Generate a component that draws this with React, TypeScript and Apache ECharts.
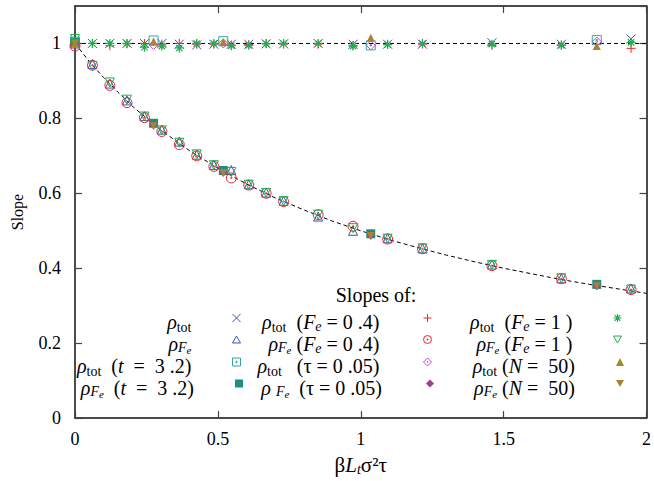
import React, { useEffect, useRef } from "react";
import * as echarts from "echarts";

const FONT = "'Liberation Serif', 'Times New Roman', Times, serif";
const S = "\u00a0";

// ---------- data ----------
const xDense = [0, 0.061, 0.122, 0.182, 0.243, 0.304, 0.365, 0.426, 0.486, 0.547, 0.608, 0.669, 0.73, 0.851, 0.973, 1.094, 1.216, 1.459, 1.702, 1.946];
const xSparse = [0, 0.275, 0.519, 1.035, 1.826];

const totBase = [1.0, 1.0, 1.0, 1.0, 1.0, 1.0, 0.998, 0.996, 0.998, 0.998, 0.998, 0.999, 0.999, 1.0, 0.998, 0.998, 0.998, 1.002, 0.998, 1.012];
const feBase = [1.0, 0.945, 0.893, 0.848, 0.806, 0.77, 0.738, 0.703, 0.676, 0.662, 0.624, 0.602, 0.58, 0.538, 0.5, 0.48, 0.453, 0.41, 0.373, 0.346];
const totT32 = [1.005, 1.008, 1.006, 0.995, 1.009];
const feT32 = [1.003, 0.787, 0.661, 0.492, 0.357];
const totFe04 = [0.998, 1.0, 0.994, 0.999, 1.0, 0.998, 1.0, 0.998, 0.998, 0.996, 0.997, 1.0, 0.998, 0.998, 0.995, 0.998, 0.998, 0.995, 0.996, 0.987];
const feFe04 = [0.993, 0.942, 0.888, 0.842, 0.802, 0.765, 0.73, 0.7, 0.672, 0.641, 0.622, 0.6, 0.578, 0.543, 0.512, 0.478, 0.452, 0.407, 0.372, 0.343];
const totTau = [1.0, 0.996, 1.0, 0.995, 1.005];
const feTau = [1.0, 0.782, 0.655, 0.487, 0.352];
const totFe1 = [1.003, 1.0, 1.0, 1.0, 0.99, 0.993, 0.988, 1.0, 1.0, 0.994, 0.995, 0.999, 1.0, 1.0, 0.993, 0.997, 1.0, 0.998, 0.995, 1.003];
const feFe1 = [1.012, 0.94, 0.896, 0.85, 0.805, 0.768, 0.735, 0.704, 0.675, 0.657, 0.623, 0.601, 0.579, 0.543, 0.507, 0.479, 0.453, 0.409, 0.373, 0.343];
const totN50 = [1.0, 1.005, 1.004, 1.015, 0.993];
const feN50 = [1.0, 0.779, 0.654, 0.486, 0.352];

// dashed guide curves
const guideX = [0, 0.05, 0.1, 0.15, 0.2, 0.3, 0.4, 0.5, 0.6, 0.7, 0.8, 0.9, 1.0, 1.1, 1.2, 1.3, 1.4, 1.5, 1.6, 1.7, 1.8, 1.9, 2.0];
const guideLower = [1.0, 0.952, 0.909, 0.87, 0.833, 0.769, 0.714, 0.667, 0.625, 0.588, 0.556, 0.526, 0.5, 0.476, 0.455, 0.435, 0.417, 0.4, 0.385, 0.37, 0.357, 0.345, 0.333];
const guideUpperX = [0, 2];
const guideUpper = [1, 1];

const seriesNames = [
  "ρtot", "ρFe", "ρtot (t = 3.2)", "ρFe (t = 3.2)",
  "ρtot (Fe = 0.4)", "ρFe (Fe = 0.4)", "ρtot (τ = 0.05)", "ρFe (τ = 0.05)",
  "ρtot (Fe = 1)", "ρFe (Fe = 1)", "ρtot (N = 50)", "ρFe (N = 50)",
];

const legendLabels = [
  `{r|ρ}{s|tot}`,
  `{r|ρ}{f|F}{ff|e}`,
  `{r|ρ}{s|tot}{n|${S}${S}(}{i|t}{n|${S}${S}=${S}${S}3${S}.2)}`,
  `{r|ρ}{f|F}{ff|e}{n|${S}${S}(}{i|t}{n|${S}${S}=${S}${S}3${S}.2)}`,
  `{r|ρ}{s|tot}{n|${S}${S}(}{i|F}{e|e}{n|${S}=${S}0${S}.4)}`,
  `{r|ρ}{f|F}{ff|e}{n|${S}(}{i|F}{e|e}{n|${S}=${S}0${S}.4)}`,
  `{r|ρ}{s|tot}{n|${S}${S}${S}(τ${S}=${S}0${S}.05)}`,
  `{r|ρ}{n|${S}}{f|F}{ff|e}{n|${S}${S}(τ${S}=${S}0${S}.05)}`,
  `{r|ρ}{s|tot}{n|${S}${S}(}{i|F}{e|e}{n|${S}=${S}1${S})}`,
  `{r|ρ}{f|F}{ff|e}{n|${S}(}{i|F}{e|e}{n|${S}=${S}1${S})}`,
  `{r|ρ}{s|tot}{n|${S}(}{i|N}{n|${S}=${S}${S}50)}`,
  `{r|ρ}{f|F}{ff|e}{n|${S}(}{i|N}{n|${S}=${S}${S}50)}`,
];

const xAxisName = "{g|β}{i|L}{t|t}{g|σ²τ}";
const yAxisName = "Slope";
const keyTitle = "Slopes of:";

// ---------- styles ----------
const BLUE = "#3b50c0";
const TEAL_L = "#35a5a5";
const TEAL = "#1f8c86";
const RED = "#e8282d";
const PURPLE_L = "#c243c8";
const PURPLE = "#a23c9c";
const GREEN = "#1fae4c";
const OLIVE = "#a8842e";

const SYM = {
  cross: "path://M0,0L10,10M10,0L0,10",
  tri: "path://M5,0L10,8.66L0,8.66Z",
  sqDot: "path://M0,0L10,0L10,10L0,10ZM4.3,4.3L5.7,4.3L5.7,5.7L4.3,5.7Z",
  plus: "path://M5,0L5,10M0,5L10,5",
  circDot: "path://M0,5A5,5,0,1,1,10,5A5,5,0,1,1,0,5ZM4.3,5A0.7,0.7,0,1,1,5.7,5A0.7,0.7,0,1,1,4.3,5Z",
  diaDot: "path://M5,0L10,5L5,10L0,5ZM5,4.2L5.8,5L5,5.8L4.2,5Z",
  star: "path://M5,0L5,10M0,5L10,5M1.5,1.5L8.5,8.5M8.5,1.5L1.5,8.5",
  triDown: "path://M0,0L10,0L5,8.66Z",
};

const defs = [
  { xs: xDense, ys: totBase, sym: SYM.cross, fill: "none", stroke: BLUE, bw: 1, size: 9 },
  { xs: xDense, ys: feBase, sym: SYM.tri, fill: "none", stroke: BLUE, bw: 1, size: 9 },
  { xs: xSparse, ys: totT32, sym: SYM.sqDot, fill: "none", stroke: TEAL_L, bw: 1, size: 9 },
  { xs: xSparse, ys: feT32, sym: "rect", fill: TEAL, stroke: TEAL, bw: 0, size: 9 },
  { xs: xDense, ys: totFe04, sym: SYM.plus, fill: "none", stroke: RED, bw: 1, size: 9 },
  { xs: xDense, ys: feFe04, sym: SYM.circDot, fill: "none", stroke: RED, bw: 1, size: 10 },
  { xs: xSparse, ys: totTau, sym: SYM.diaDot, fill: "none", stroke: PURPLE_L, bw: 1, size: 9 },
  { xs: xSparse, ys: feTau, sym: "diamond", fill: PURPLE, stroke: PURPLE, bw: 0, size: 8 },
  { xs: xDense, ys: totFe1, sym: SYM.star, fill: "none", stroke: GREEN, bw: 1.2, size: 9 },
  { xs: xDense, ys: feFe1, sym: SYM.triDown, fill: "none", stroke: GREEN, bw: 1, size: 9 },
  { xs: xSparse, ys: totN50, sym: "triangle", fill: OLIVE, stroke: OLIVE, bw: 0, size: 8 },
  { xs: xSparse, ys: feN50, sym: SYM.triDown, fill: OLIVE, stroke: OLIVE, bw: 0, size: 8 },
];

const legendIconX = [239, 430, 620];
const legendRowY = [317, 339, 361, 383];
const legendTextPad = [36, 39, 36];

const rich = {
  r: { fontFamily: FONT, fontSize: 20, fontStyle: "italic", lineHeight: 20 },
  s: { fontFamily: FONT, fontSize: 14, lineHeight: 12, padding: [10, 0, 0, 0] },
  f: { fontFamily: FONT, fontSize: 14, fontStyle: "italic", lineHeight: 12, padding: [8, 0, 0, 0] },
  ff: { fontFamily: FONT, fontSize: 11, fontStyle: "italic", lineHeight: 10, padding: [12, 0, 0, 0] },
  n: { fontFamily: FONT, fontSize: 20, lineHeight: 20 },
  i: { fontFamily: FONT, fontSize: 20, fontStyle: "italic", lineHeight: 20 },
  e: { fontFamily: FONT, fontSize: 14, fontStyle: "italic", lineHeight: 12, padding: [9, 0, 0, 0] },
};

function buildOption() {
  const axisLine = { show: true, onZero: false, lineStyle: { color: "#111", width: 1.5 } };
  const axisTick = { show: true, inside: true, length: 7, lineStyle: { color: "#444", width: 1.2 } };
  const labelStyle = { color: "#000", fontFamily: FONT, fontSize: 18 };

  const scatterSeries = defs.map((d, i) => ({
    type: "scatter",
    name: seriesNames[i],
    symbol: d.sym,
    symbolSize: d.size,
    clip: false,
    itemStyle: { color: d.fill, borderColor: d.stroke, borderWidth: d.bw, opacity: 1 },
    emphasis: { disabled: true },
    data: d.xs.map((x, j) => [x, d.ys[j]]),
    z: 3,
  }));

  const lineSeries = [
    {
      type: "line",
      name: "guideUpper",
      data: guideUpperX.map((x, j) => [x, guideUpper[j]]),
      showSymbol: false,
      symbol: "none",
      lineStyle: { color: "#000", width: 1, type: [4, 3] },
      silent: true,
      z: 2,
    },
    {
      type: "line",
      name: "guideLower",
      data: guideX.map((x, j) => [x, guideLower[j]]),
      showSymbol: false,
      symbol: "none",
      smooth: false,
      lineStyle: { color: "#000", width: 1, type: [4, 3] },
      silent: true,
      z: 2,
    },
  ];

  const legends = defs.map((d, i) => {
    const c = Math.floor(i / 4);
    const r = i % 4;
    return {
      data: [
        {
          name: seriesNames[i],
          icon: d.sym,
          itemStyle: { color: d.fill, borderColor: d.stroke, borderWidth: d.bw },
        },
      ],
      right: 654 - (legendIconX[c] + 4),
      top: legendRowY[r] - 7,
      padding: 0,
      align: "right",
      orient: "horizontal",
      itemWidth: 8,
      itemHeight: 8,
      selectedMode: false,
      formatter: (n: string) => legendLabels[seriesNames.indexOf(n)],
      textStyle: {
        fontFamily: FONT,
        fontSize: 20,
        color: "#000",
        padding: [8, legendTextPad[c], 0, 0],
        rich,
      },
    };
  });

  return {
    animation: false,
    textStyle: { fontFamily: FONT },
    grid: { left: 75, right: 5, top: 6, bottom: 62, containLabel: false },
    xAxis: [
      {
        type: "value",
        min: 0,
        max: 2,
        interval: 0.5,
        position: "bottom",
        axisLine,
        axisTick,
        axisLabel: { ...labelStyle, margin: 12 },
        splitLine: { show: false },
        name: xAxisName,
        nameLocation: "middle",
        nameGap: 25,
        nameTextStyle: {
          color: "#000",
          fontFamily: FONT,
          fontSize: 21,
          rich: {
            g: { fontFamily: FONT, fontSize: 21, lineHeight: 22 },
            i: { fontFamily: FONT, fontSize: 21, fontStyle: "italic", lineHeight: 22 },
            t: { fontFamily: FONT, fontSize: 14, fontStyle: "italic", lineHeight: 13, padding: [9, 0, 0, 0] },
          },
        },
      },
      {
        type: "value",
        min: 0,
        max: 2,
        interval: 0.5,
        position: "top",
        axisLine,
        axisTick,
        axisLabel: { show: false },
        splitLine: { show: false },
      },
    ],
    yAxis: [
      {
        type: "value",
        min: 0,
        max: 1.1,
        interval: 0.2,
        position: "left",
        axisLine,
        axisTick,
        axisLabel: { ...labelStyle, margin: 14, showMaxLabel: false },
        splitLine: { show: false },
        name: yAxisName,
        nameLocation: "middle",
        nameGap: 50,
        nameTextStyle: { color: "#000", fontFamily: FONT, fontSize: 16 },
      },
      {
        type: "value",
        min: 0,
        max: 1.1,
        interval: 0.2,
        position: "right",
        axisLine,
        axisTick,
        axisLabel: { show: false },
        splitLine: { show: false },
      },
    ],
    legend: legends,
    graphic: [
      {
        type: "text",
        x: 376,
        y: 295,
        style: {
          text: keyTitle,
          fontFamily: FONT,
          fontSize: 20,
          fill: "#000",
          align: "center",
          verticalAlign: "middle",
        },
      },
    ],
    series: [...lineSeries, ...scatterSeries],
  };
}

export default function App() {
  const ref = useRef<HTMLDivElement>(null);
  useEffect(() => {
    if (!ref.current) return;
    const chart = echarts.init(ref.current, null, { renderer: "svg" });
    chart.setOption(buildOption() as any);
    return () => chart.dispose();
  }, []);
  return (
    <div
      ref={ref}
      style={{ position: "fixed", left: 0, top: 0, width: 654, height: 481, background: "#fff" }}
    />
  );
}
